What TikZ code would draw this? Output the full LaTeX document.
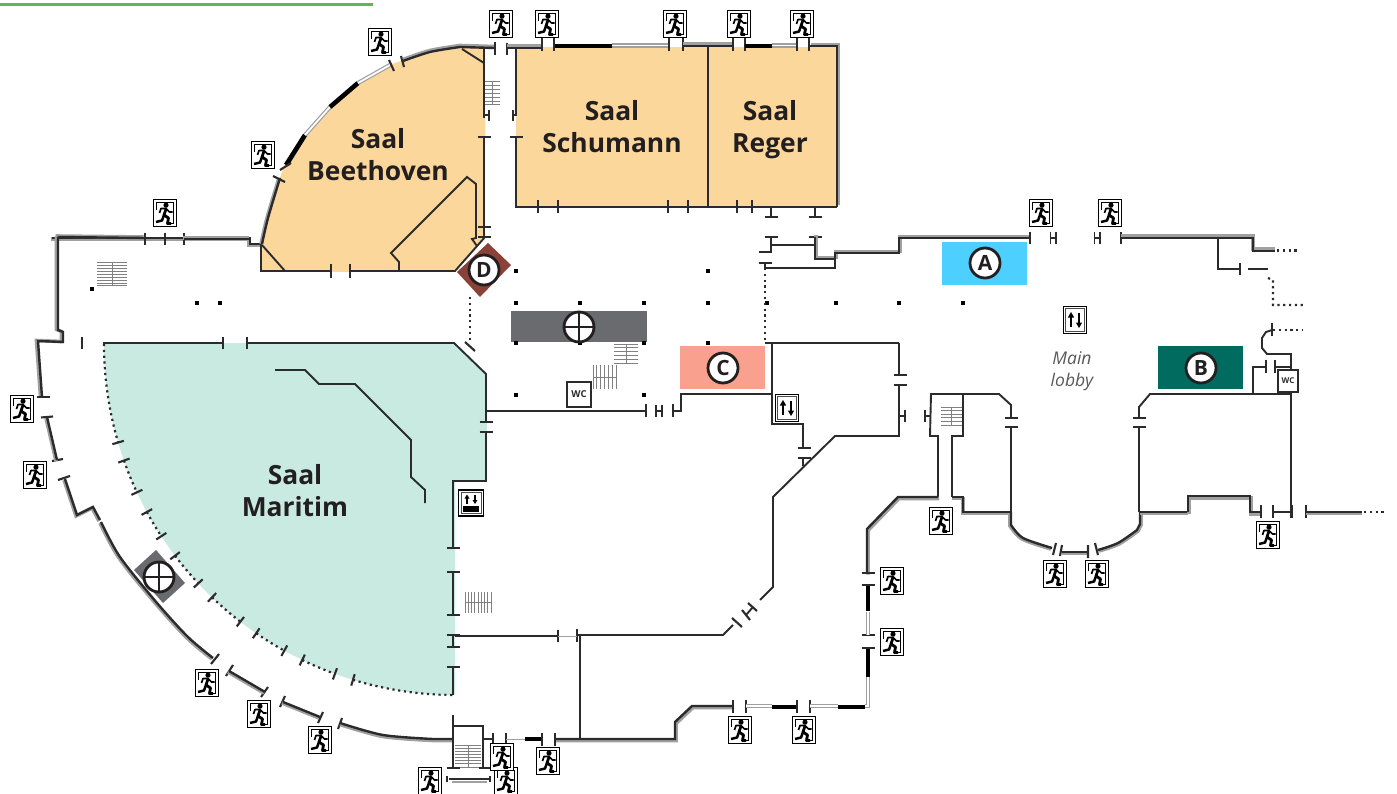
\documentclass[tikz,border=0pt]{standalone}
\usepackage{fontspec}
\setmainfont{Open Sans}
\definecolor{ink}{HTML}{231F20}
\definecolor{wk}{HTML}{2B2B2D}
\definecolor{wg}{HTML}{A0A0A0}
\definecolor{stg}{HTML}{808080}
\definecolor{beet}{HTML}{FBD79B}
\definecolor{mari}{HTML}{C8EAE0}
\definecolor{tagA}{HTML}{4DCFFF}
\definecolor{tagB}{HTML}{006B5E}
\definecolor{tagC}{HTML}{F9A08F}
\definecolor{tagD}{HTML}{8A4238}
\definecolor{tagG}{HTML}{6A6B6E}
\definecolor{topg}{HTML}{5CB85C}
\tikzset{
 thinw/.style={draw=wk,line width=1.9pt,line join=miter},
 tick/.style={draw=wk,line width=2.1pt},
 pale/.style={draw=wg,line width=1.2pt,double=white,double distance=1.8pt},
 blk/.style={draw=black,line width=4.6pt},
 dots/.style={draw=wk,line width=2.2pt,dash pattern=on 2.2pt off 3.6pt},
 lbl/.style={font=\fontsize{26.4}{32}\selectfont\bfseries,text=ink,align=center},
 tag/.style={circle,draw=ink,line width=2.8pt,fill=white,minimum size=30pt,inner sep=0pt,font=\fontsize{21}{21}\selectfont\bfseries,text=ink},
 pillar/.style={fill=black,minimum size=4.8pt,inner sep=0pt},
 wcbox/.style={draw=wk,line width=2.2pt,fill=white,inner sep=0pt,font=\fontsize{9.5}{10}\selectfont\bfseries,text=wk},
 pics/exitsign/.style={code={
   \fill[white] (-11.5,-13.5) rectangle (11.5,13.5);
   \draw[black,line width=1.9pt] (-11.5,-13.5) rectangle (11.5,13.5);
   \draw[black,line width=1.1pt] (-8.5,-3) -- (-8.5,-10.5) -- (8.5,-10.5) -- (8.5,10.5) -- (5,10.5);
   \fill[black] (1,-7.8) circle (2.6);
   \draw[black,line width=2.8pt,line join=round] (1,-4) -- (-1,2) -- (3.5,5) -- (2.5,10.5) -- (6,10.5);
   \draw[black,line width=2.5pt,line join=round] (-1,2) -- (-3,7.5) -- (-9,9);
   \draw[black,line width=1.7pt,line join=round] (-5.5,0) -- (-4,-4.5) -- (1,-4.5) -- (4.5,-1) -- (7.5,-1);
 }},
 pics/liftsign/.style={code={
   \fill[white] (-11.5,-13.5) rectangle (11.5,13.5);
   \draw[black,line width=1.8pt] (-11.5,-13.5) rectangle (11.5,13.5);
   \draw[black!70,line width=.7pt] (-9.3,-11.3) rectangle (9.3,11.3);
   \draw[black,line width=2pt] (-4,7) -- (-4,-4);
   \fill[black] (-4,-8) -- (-7.2,-2.5) -- (-0.8,-2.5) -- cycle;
   \draw[black,line width=2pt] (4,-7) -- (4,4);
   \fill[black] (4,8) -- (0.8,2.5) -- (7.2,2.5) -- cycle;
 }}
}
\newcommand\wl[3]{\draw[wg,line width=3.6pt,shift={(#1,#2)},line join=miter] #3;\draw[wk,line width=2.4pt,line join=miter] #3;}
\newcommand\tkv[2]{\draw[tick] (#1,#2-6.5) -- (#1,#2+6.5);}
\newcommand\tkh[2]{\draw[tick] (#1-6.5,#2) -- (#1+6.5,#2);}
\newcommand\stH[5]{\foreach \i in {0,...,#5}{\draw[stg,line width=1pt] (#1,{#2+(#4-#2)*\i/#5}) -- (#3,{#2+(#4-#2)*\i/#5});}\draw[stg,line width=1pt] ({(#1+#3)/2},#2) -- ({(#1+#3)/2},#4);}
\newcommand\stV[5]{\foreach \i in {0,...,#5}{\draw[stg,line width=1pt] ({#1+(#3-#1)*\i/#5},#2) -- ({#1+(#3-#1)*\i/#5},#4);}\draw[stg,line width=1pt] (#1,{(#2+#4)/2}) -- (#3,{(#2+#4)/2});}
\newcommand\ex[3]{\pic (#1) at (#2,#3) {exitsign};}
\begin{document}
\begin{tikzpicture}[x=1pt,y=-1pt]
\useasboundingbox (0,0) rectangle (1397,794);
\fill[white] (0,0) rectangle (1397,794);
\draw[topg,line width=2.6pt] (0,4.5) -- (373,4.5);
% fills
\fill[beet] (261,272) -- plot[smooth] coordinates {(261,247) (285,165) (330,105) (390,65) (460,47)} -- (485,47) -- (485,237) -- (455,272) -- cycle;
\fill[beet] (516,47) rectangle (837,207);
\fill[mari] (103,343) -- (455,343) -- (487,375) -- (487,481) -- (455,481) -- (455,695) -- plot[domain=90:180,samples=50] ({455+351*cos(\x)},{344+351*sin(\x)}) -- cycle;
% tags
\fill[tagA] (942,242) rectangle (1027,285);
\fill[tagB] (1158,346) rectangle (1243,389);
\fill[tagC] (680,346) rectangle (765,389);
\fill[tagG] (511,311) rectangle (647,342);
\fill[tagG] (134,570) -- (156,550) -- (185,583) -- (163,603) -- cycle;
% pillars
\foreach \n/\x/\y in {p1/516/271,p2/708/271,p3/516/303,p4/580/303,p5/644/303,p6/708/303,p7/767/303,p8/836/303,p9/899/303,p10/963/303,p11/516/343,p12/580/343,p13/644/343,p14/708/343,p15/516/395,p16/644/395,p17/92/289,p18/197/303,p19/220/303}
  \node[pillar] (\n) at (\x,\y) {};
% stairs
\stH{485}{82}{500}{105}{6}
\stH{97}{263}{127}{286}{8}
\stH{614}{344}{638}{363}{5}
\stV{593}{365}{616}{389}{6}
\stV{465}{592}{491}{613}{8}
\stH{941}{407}{962}{425}{5}
\stH{455}{745}{481}{767}{7}
% Beethoven outer wall
\wl{-1}{1}{(52,238) -- (250,238) -- (250,244) -- (262,244)}
\wl{-1}{0}{plot[smooth] coordinates {(262,244) (268,218) (280,178)}}
\draw[pale] (287,165) -- (305,135);
\draw[blk] (286,165) -- (305,135);
\draw[pale] (305,135) -- (330,107);
\draw[blk] (330,107) -- (358,83);
\draw[pale] (358,83) -- (390,65);
\draw[tick] (273,176) -- (285,182);
\draw[tick] (280,170) -- (291,163);
\draw[tick] (389,60) -- (394,71);
\draw[tick] (401,56) -- (404,67);
\wl{0}{-1.5}{plot[smooth] coordinates {(403,61) (430,52) (460,47)} -- (494,48)}
\draw[tick] (495,42) -- (495,55);
\draw[tick] (507,43) -- (507,55);
% Beethoven inner
\draw[thinw] (261,272) -- (261,245);
\draw[thinw] (262,245) -- (285,271);
\draw[thinw] (261,271) -- (331,271) (350,271) -- (455,271) -- (485,237);
\draw[tick] (331,264) -- (331,278) (350,264) -- (350,278);
\draw[thinw] (399,271) -- (399,262) -- (391,253) -- (467,177) -- (476,184) -- (476,238) -- (472,239) -- (477,246);
\draw[thinw] (462,49) -- (484,63);
\draw[thinw] (484,48) -- (484,118) (484,115) -- (489,115);
\draw[tick] (489,110) -- (489,121);
\tkh{484}{137}
\draw[thinw] (484,137) -- (484,237);
\tkh{484}{227}\tkh{484}{237}
% Schumann
\wl{0}{-2}{(507,48) -- (542,48)}
\tkv{542}{45}\tkv{554}{45}
\draw[blk] (555,46) -- (612,46);
\draw[pale] (612,45.5) -- (669,45.5);
\tkv{669}{45}\tkv{683}{45}
\wl{0}{-2}{(683,46) -- (733,46)}
\tkv{733}{45}\tkv{745}{45}
\draw[blk] (745,46) -- (772,46);
\draw[pale] (772,45.5) -- (797,45.5);
\tkv{797}{45}\tkv{809}{45}
\wl{1.5}{-1.5}{(809,46) -- (837,46) -- (837,207)}
\draw[thinw] (708,46) -- (708,207);
\draw[thinw] (516,48) -- (516,115) -- (513,115);
\draw[tick] (513,110) -- (513,121);
\tkh{516}{137}
\draw[thinw] (516,137) -- (516,207) -- (837,207);
\foreach \x in {538,558,668,688,737,752} {\draw[tick] (\x,200) -- (\x,213);}
\draw[thinw] (771,207) -- (771,217) (815,207) -- (815,217);
\tkh{771}{217}\tkh{815}{217}
% upper right of Schumann
\tkh{771}{237}\tkh{815}{237}
\draw[thinw] (771,237) -- (771,252) (771,245) -- (815,245);
\tkh{765}{252}\tkh{765}{263}
\draw[thinw] (765,263) -- (765,268) -- (835,268) -- (835,253);
\wl{1}{-1.5}{(815,237) -- (815,259) -- (835,259) -- (835,253) -- (899,253) -- (899,238) -- (1030,238)}
\draw[tick] (1030,232) -- (1030,244);
\draw[dots] (765,268) -- (765,343);
\draw[tick,line width=1.8pt] (1050.5,232) -- (1050.5,244) (1056,232) -- (1056,244) (1050.5,238) -- (1056,238);
\draw[tick,line width=1.8pt] (1094.5,232) -- (1094.5,244) (1100,232) -- (1100,244) (1094.5,238) -- (1100,238);
\draw[tick] (1121,232) -- (1121,244);
\wl{0}{-2}{(1121,238) -- (1253,238) -- (1253,251) -- (1275,251)}
\draw[dots] (1277,250.5) -- (1300,250.5);
\draw[thinw] (1218,238) -- (1218,269) -- (1240,269);
\draw[tick] (1240,263) -- (1240,275);
\draw[thinw] (1248,269) -- (1268,269);
\draw[dots] (1268,278) -- (1273,280) -- (1273,305) -- (1303,305);
\draw[dots] (1273,330) -- (1303,330);
\draw[tick] (1272,323) -- (1272,336);
\draw[thinw] (1272,330) -- (1266,332) -- (1262,338) -- (1262,348) -- (1267,354) -- (1291,354) -- (1291,371);
\draw[thinw] (1253,394) -- (1253,367) -- (1266,367);
\draw[tick] (1266,360) -- (1266,373) (1275,360) -- (1275,373);
\draw[thinw] (1275,367) -- (1291,367);
% column C
\draw[thinw] (765,343) -- (899,343);
\draw[thinw] (772,342) -- (772,424) -- (803,424) -- (803,447);
\tkh{804}{448}\tkh{804}{458}
\draw[thinw] (803,458) -- (803,466);
\draw[thinw] (899,343) -- (899,375);
\tkh{900}{375}\tkh{900}{385}
\draw[thinw] (899,385) -- (899,436) -- (835,436) -- (773,497) -- (773,587) -- (760,600);
\draw[thinw] (899,416) -- (905,416);
\draw[tick] (905,410) -- (905,422);
\draw[thinw] (925,416) -- (931,416);
\draw[tick] (925,410) -- (925,422);
% stair tower
\draw[thinw] (938,497) -- (938,436) -- (930,436) -- (931,394) -- (999,394) -- (1011,405) -- (1011,418);
\draw[thinw] (952,497) -- (952,436) -- (963,436) -- (963,394);
\tkh{1011}{418}\tkh{1011}{427}
\draw[thinw] (1011,427) -- (1011,512);
\wl{1}{1.5}{(867,573) -- (867,529) -- (898,497) -- (938,497)}
\wl{0}{1.5}{(952,497) -- (963,497) -- (963,512) -- (1010,512)}
\wl{-1}{1}{(1011,512) -- (1011,525) -- plot[smooth] coordinates {(1011,525) (1023,538) (1052,548)}}
\draw[tick] (1056,543) -- (1053,555) (1062,545) -- (1060,556);
\wl{0}{1}{(1062,552) -- (1088,552)}
\draw[tick] (1088,545) -- (1088,558) (1095,543) -- (1098,555);
\wl{1}{1}{plot[smooth] coordinates {(1098,550) (1118,543) (1137,530)} -- (1140,524) -- (1140,512)}
\draw[thinw] (1139,512) -- (1139,427);
\tkh{1139}{427}\tkh{1139}{418}
\draw[thinw] (1139,418) -- (1139,407) -- (1150,394) -- (1290,394);
\draw[thinw] (1291,370) -- (1291,518);
\wl{0}{1.5}{(1140,512) -- (1188,512)}
\wl{1}{2}{(1188,512) -- (1188,496) -- (1250,496) -- (1250,512) -- (1261,512)}
\draw[tick] (1261,505) -- (1261,518) (1273,505) -- (1273,518) (1292,505) -- (1292,518) (1306,505) -- (1306,518);
\draw[thinw] (1273,512) -- (1292,512);
\wl{0}{1.5}{(1306,512) -- (1362,512)}
\draw[dots] (1364,512) -- (1386,512);
% lobby horizontal
\draw[thinw] (486,411) -- (645,411);
\draw[tick] (646,404) -- (646,417) (656,405) -- (656,417) (662,405) -- (662,417) (673,404) -- (673,417);
\draw[thinw] (656,411) -- (662,411) (673,411) -- (681,411) -- (681,394) -- (772,394);
% Maritim walls
\draw[thinw] (103,343) -- (223,343) (247,343) -- (454,343) -- (486,374) -- (486,422);
\draw[tick] (223,337) -- (223,349) (247,337) -- (247,349) (82,337) -- (82,349);
\draw[tick] (465,342) -- (475,351);
\draw[dots] (470,297) -- (470,342);
\tkh{486}{422}\tkh{486}{432}
\draw[thinw] (486,432) -- (486,481) -- (453,481) -- (453,548);
\tkh{453}{548}\tkh{453}{572}
\draw[thinw] (453,572) -- (453,615);
\tkh{453}{615}\tkh{453}{635}\tkh{453}{647}
\draw[thinw] (453,635) -- (453,647) (453,667) -- (453,695);
\tkh{453}{667}
\draw[thinw] (275,370) -- (305,370) -- (319,384) -- (355,384) -- (411,440) -- (411,477) -- (425,490) -- (425,503);
% dotted arc
\foreach \a/\b in {180/163.7,160.6/155,151.4/146.8,142.9/137,133.8/127.7,124.5/119.1,115.8/110,106.9/90}
  \draw[dots] plot[domain=\a:\b,samples=20] ({455+351*cos(\x)},{344+351*sin(\x)});
\foreach \a in {163.7,160.6,155,151.4,146.8,142.9,137,133.8,127.7,124.5,119.1,115.8,110,106.9}
  \draw[tick] ({455+345*cos(\a)},{344+345*sin(\a)}) -- ({455+357*cos(\a)},{344+357*sin(\a)});
% west outer wall
\wl{-1.5}{-1}{(57,237) -- (145,238)}
\draw[tick] (145,233) -- (145,245) (165,233) -- (165,245) (184,233) -- (184,245);
\wl{-1}{-1}{(184,239) -- (250,239)}
\wl{-1.5}{-0.5}{(58,237) -- (58,330) -- (63,332) -- (63,342) -- (38,341) -- (42,397)}
\tkh{43}{397}
\draw[tick] (41,417.5) -- (53,416.5) (52,461) -- (63,459) (58,480) -- (70,476);
\wl{-1}{1}{(47,417) -- (57,460)}
\wl{-1}{1}{(65,479) -- (77,515) -- (93,507) -- (100,520)}
\wl{-1}{1}{plot[smooth] coordinates {(101,522) (120,557) (157,603) (188,637) (213,658)}}
\draw[tick] (219,654) -- (211,664) (233,665) -- (226,676) (268,687) -- (261,697) (285,696) -- (280,707) (323,712) -- (318,723) (342,718) -- (338,729);
\wl{-1}{1}{(229,671) -- (265,692)}
\wl{-1}{1}{(283,702) -- (320,717)}
\wl{0}{1.5}{plot[smooth] coordinates {(340,723) (383,735) (433,739)} -- (453,739)}
% south stair
\draw[tick,line width=2.4pt] (453,715) -- (453,768) (453,726) -- (483,726) -- (483,768);
\tkh{453}{768}\tkh{485}{768}
\draw[thinw] (483,739) -- (493,739);
\draw[tick] (493,733) -- (493,746) (506,733) -- (506,746);
\draw[wg,line width=.8pt] (506,739) -- (525,739);
\draw[blk] (525,739) -- (542,739);
\draw[tick] (542,733) -- (542,746) (555,733) -- (555,746);
\draw[wg,line width=1.5pt] (452,782) -- (487,782);
\draw[thinw] (449,779) -- (490,779);
\draw[tick] (447,776) -- (447,782) (490,776) -- (490,782);
\wl{1}{1.5}{(555,739) -- (675,739) -- (675,722) -- (692,706) -- (733,706)}
\draw[tick] (733,700) -- (733,713) (746,700) -- (746,713);
\draw[pale] (746,706) -- (772,706);
\draw[blk] (772,707) -- (797,707);
\draw[tick] (797,700) -- (797,713) (810,700) -- (810,713);
\draw[pale] (810,706) -- (838,706);
\draw[blk] (838,707) -- (865,707);
\draw[pale] (865,706) -- (868,706) -- (868,677);
\draw[blk] (868,677) -- (868,649);
\tkh{868}{648}\tkh{868}{635}\tkh{868}{585}\tkh{868}{573}
\draw[pale] (868,635) -- (868,612);
\draw[blk] (868,611) -- (868,586);
% south-centre rooms
\draw[thinw] (455,636) -- (558,636) (577,635) -- (723,635) -- (733,625);
\draw[tick] (558,630) -- (558,642) (577,629) -- (577,642);
\draw[wg,line width=.5pt] (558,636) -- (577,636);
\draw[thinw] (580,635) -- (580,739);
\draw[tick] (732,618) -- (742,627) (742,610) -- (750,620) (748,603) -- (757,611);
\draw[thinw] (746,615) -- (753,607);
% icons
\node[wcbox,minimum width=24pt,minimum height=25pt] (wc1) at (579,394.5) {WC};
\node[wcbox,minimum width=20pt,minimum height=22pt,font=\fontsize{8}{8}\selectfont\bfseries] (wc2) at (1288,381) {WC};
\pic (lift1) at (787,408) {liftsign};
\pic (lift2) at (1075,320) {liftsign};
\begin{scope}[shift={(471,503)}]
  \fill[white] (-12.5,-13) rectangle (12.5,13);
  \draw[black,line width=1.7pt] (-12.5,-13) rectangle (12.5,13);
  \draw[black!70,line width=.7pt] (-10,-10.5) rectangle (10,10.5);
  \draw[black,line width=1.6pt] (-4,1) -- (-4,-6);
  \fill[black] (-4,-8.5) -- (-6.5,-4.5) -- (-1.5,-4.5) -- cycle;
  \draw[black,line width=1.6pt] (4,-8) -- (4,-2);
  \fill[black] (4,1) -- (1.5,-3) -- (6.5,-3) -- cycle;
  \fill[black] (-8,2.5) rectangle (8,9);
\end{scope}
\ex{e1}{380}{42}\ex{e2}{263}{155}\ex{e3}{165}{213}\ex{e4}{501}{24}\ex{e5}{547}{24}
\ex{e6}{675}{24}\ex{e7}{739}{24}\ex{e8}{802}{24}\ex{e9}{1041}{213}\ex{e10}{1110}{213}
\ex{e11}{22}{409}\ex{e12}{35}{475}\ex{e13}{207}{683}\ex{e14}{259}{714}\ex{e15}{320}{740}
\ex{e16}{430}{781}\ex{e17}{506}{781}\ex{e18}{548}{761}\ex{e19}{740}{730}\ex{e20}{804}{730}
\ex{e21}{892}{581}\ex{e22}{892}{642}\ex{e23}{941}{521}\ex{e24}{1055}{574}\ex{e25}{1097}{574}\ex{e26}{1268}{535}
\begin{scope}[shift={(502,757)},scale=.7]\pic (e27) at (0,0) {exitsign};\end{scope}
% tag circles
\fill[tagD] (457,272) -- (488,243) -- (511,265) -- (480,297) -- cycle;
\node[tag] (tA) at (985,263) {A};
\node[tag] (tB) at (1201,368) {B};
\node[tag] (tC) at (723,368) {C};
\node[tag] (tD) at (484,270) {D};
\node[tag] (x1) at (579,327) {};
\draw[ink,line width=2.6pt] (x1.north) -- (x1.south) (x1.west) -- (x1.east);
\node[tag] (x2) at (159,577) {};
\draw[ink,line width=2.6pt] (x2.north) -- (x2.south) (x2.west) -- (x2.east);
% labels
\node[lbl] (s1) at (378,155) {Saal\\Beethoven};
\node[lbl] (s2) at (612,127) {Saal\\Schumann};
\node[lbl] (s3) at (770,130) {Saal\\Reger};
\node[lbl] (s4) at (295,491) {Saal\\Maritim};
\node[font=\fontsize{17.5}{22}\selectfont\itshape,text=black!65,align=center] (s5) at (1072,371) {Main\\lobby};
\end{tikzpicture}
\end{document}
